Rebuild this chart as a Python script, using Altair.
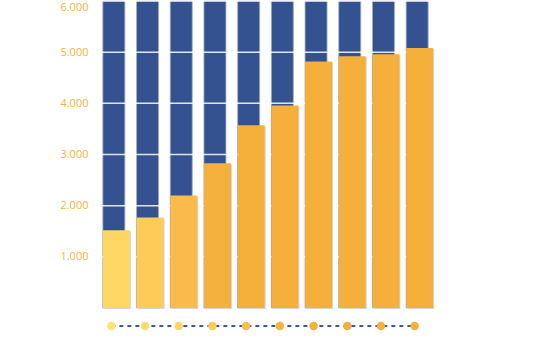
import altair as alt
import pandas as pd

categories = [str(i) for i in range(1, 11)]
values = [1520, 1770, 2200, 2830, 3570, 3960, 4820, 4920, 4960, 5080]
max_value = 6000
tick_values = [1000, 2000, 3000, 4000, 5000, 6000]
bar_colors = ["#FED664", "#FECB59", "#FBBB4B", "#F5B13D", "#F4B03B",
              "#F4B03B", "#F4B03B", "#F4B03B", "#F4B03B", "#F4B03B"]
dot_colors = ["#FFE26F", "#FEDD67", "#FDD660", "#FCCB58", "#F8BE4C",
              "#F5B342", "#F4B03C", "#F4B03C", "#F4B03C", "#F4B03C"]

BLUE = "#33528F"
LABEL = "#F5B335"

df = pd.DataFrame({
    "cat": categories,
    "value": values,
    "full": [max_value] * len(categories),
    "dot": ["d" + c for c in categories],
})
grid_df = pd.DataFrame({"tick": tick_values})

x_enc = alt.X("cat:N", sort=categories,
              scale=alt.Scale(paddingInner=0, paddingOuter=0), axis=None)
y_scale = alt.Scale(domain=[0, max_value], nice=False)

blue = alt.Chart(df).mark_bar(size=22, color=BLUE, stroke="#9eabcc",
                              strokeWidth=0.8).encode(
    x=x_enc,
    y=alt.Y("full:Q", scale=y_scale,
            axis=alt.Axis(values=tick_values,
                          labelExpr="replace(format(datum.value, ','), ',', '.')",
                          grid=False, domain=False, ticks=False,
                          labelColor=LABEL, labelFont="Open Sans",
                          labelFontSize=11, labelPadding=9,
                          labelFlush=True, title=None)),
)

grid = alt.Chart(grid_df).mark_rule(color="white", strokeWidth=1.5,
                                    opacity=0.85).encode(
    y=alt.Y("tick:Q", scale=y_scale),
)

shadow = alt.Chart(df).mark_bar(size=27, xOffset=3.5, yOffset=1,
                                color="#d4d4d4").encode(
    x=x_enc,
    y=alt.Y("value:Q", scale=y_scale),
)

orange = alt.Chart(df).mark_bar(size=27, xOffset=2.5).encode(
    x=x_enc,
    y=alt.Y("value:Q", scale=y_scale),
    color=alt.Color("cat:N", scale=alt.Scale(domain=categories, range=bar_colors),
                    legend=None),
)

line = alt.Chart(df).mark_line(color="#3A5A9A", strokeWidth=2,
                               strokeDash=[4, 4], xOffset=-2.5).encode(
    x=x_enc,
    y=alt.value(325),
)

dots = alt.Chart(df).mark_circle(size=72, opacity=1, xOffset=-2.5).encode(
    x=x_enc,
    y=alt.value(325),
    color=alt.Color("dot:N", scale=alt.Scale(domain=df["dot"].tolist(),
                                             range=dot_colors), legend=None),
)

chart = alt.layer(blue, grid, shadow, orange, line, dots).resolve_scale(
    color="independent"
).properties(
    width=337, height=307,
    padding={"left": 97, "top": 1, "right": 121, "bottom": 45},
    autosize=alt.AutoSizeParams(type="none"),
    background="white",
).configure_view(stroke=None)

chart.save("out.html", embed_options={"renderer": "svg", "actions": False})
